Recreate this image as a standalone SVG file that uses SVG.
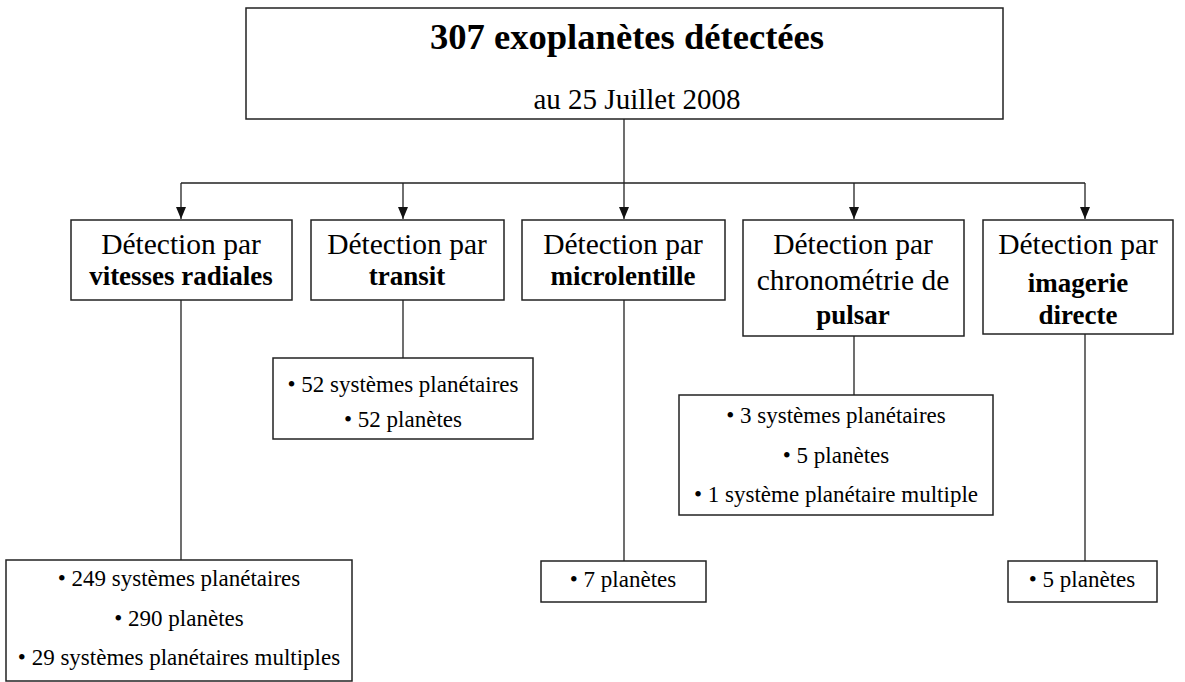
<svg xmlns="http://www.w3.org/2000/svg" width="1185" height="682" viewBox="0 0 1185 682">
<style>
.box{fill:#fff;stroke:#222;stroke-width:1.5}
.ln{fill:none;stroke:#222;stroke-width:1.3}
text{font-family:'Liberation Serif','DejaVu Serif',serif;fill:#000;text-anchor:middle}
.r{font-size:29.5px}
.b{font-size:27px;font-weight:bold}
.s{font-size:23px}
.t{font-size:36.6px;font-weight:bold}
.st{font-size:29px}
</style>
<defs>
<marker id="arr" viewBox="0 0 10 12" refX="5" refY="12" markerWidth="10" markerHeight="12" markerUnits="userSpaceOnUse" orient="0">
<path d="M0,0 L10,0 L5,12 Z" fill="#111"/>
</marker>
</defs>
<rect width="1185" height="682" fill="#fff"/>
<g id="connectors">
<path class="ln" d="M624,119 V183 M181,183 H1085"/>
<path class="ln" d="M181,183 V219" marker-end="url(#arr)"/>
<path class="ln" d="M403,183 V219" marker-end="url(#arr)"/>
<path class="ln" d="M624,183 V219" marker-end="url(#arr)"/>
<path class="ln" d="M854,183 V219" marker-end="url(#arr)"/>
<path class="ln" d="M1085,183 V219" marker-end="url(#arr)"/>
<path class="ln" d="M181,300 V560 M403,300 V358 M624,300 V561 M854,336 V395 M1085,334 V561"/>
</g>
<g id="root">
<rect class="box" x="246" y="8" width="757" height="111"/>
<text class="t" x="627" y="49" font-family="Liberation Serif, serif">307 exoplanètes détectées</text>
<text class="st" x="637" y="109">au 25 Juillet 2008</text>
</g>
<g id="radiales">
<rect class="box" x="71" y="220" width="221" height="80"/>
<text class="r" x="181" y="254">Détection par</text>
<text class="b" x="181" y="285">vitesses radiales</text>
</g>
<g id="transit">
<rect class="box" x="311" y="220" width="193" height="80"/>
<text class="r" x="407" y="254">Détection par</text>
<text class="b" x="407" y="285">transit</text>
</g>
<g id="microlentille">
<rect class="box" x="522" y="220" width="203" height="80"/>
<text class="r" x="623" y="254">Détection par</text>
<text class="b" x="623" y="285">microlentille</text>
</g>
<g id="pulsar">
<rect class="box" x="743" y="220" width="221" height="116"/>
<text class="r" x="853" y="254">Détection par</text>
<text class="r" x="853" y="290">chronométrie de</text>
<text class="b" x="853" y="324">pulsar</text>
</g>
<g id="imagerie">
<rect class="box" x="983" y="220" width="190" height="114"/>
<text class="r" x="1078" y="254">Détection par</text>
<text class="b" x="1078" y="292">imagerie</text>
<text class="b" x="1078" y="324">directe</text>
</g>
<g id="res-radiales">
<rect class="box" x="6" y="560" width="346" height="121"/>
<text class="s" x="179" y="586">• 249 systèmes planétaires</text>
<text class="s" x="179" y="626">• 290 planètes</text>
<text class="s" x="179" y="665">• 29 systèmes planétaires multiples</text>
</g>
<g id="res-transit">
<rect class="box" x="273" y="358" width="260" height="81"/>
<text class="s" x="403" y="392">• 52 systèmes planétaires</text>
<text class="s" x="403" y="427">• 52 planètes</text>
</g>
<g id="res-microlentille">
<rect class="box" x="541" y="561" width="165" height="41"/>
<text class="s" x="623" y="587">• 7 planètes</text>
</g>
<g id="res-pulsar">
<rect class="box" x="679" y="395" width="314" height="120"/>
<text class="s" x="836" y="423">• 3 systèmes planétaires</text>
<text class="s" x="836" y="463">• 5 planètes</text>
<text class="s" x="836" y="502">• 1 système planétaire multiple</text>
</g>
<g id="res-imagerie">
<rect class="box" x="1008" y="561" width="149" height="41"/>
<text class="s" x="1082" y="587">• 5 planètes</text>
</g>
</svg>
